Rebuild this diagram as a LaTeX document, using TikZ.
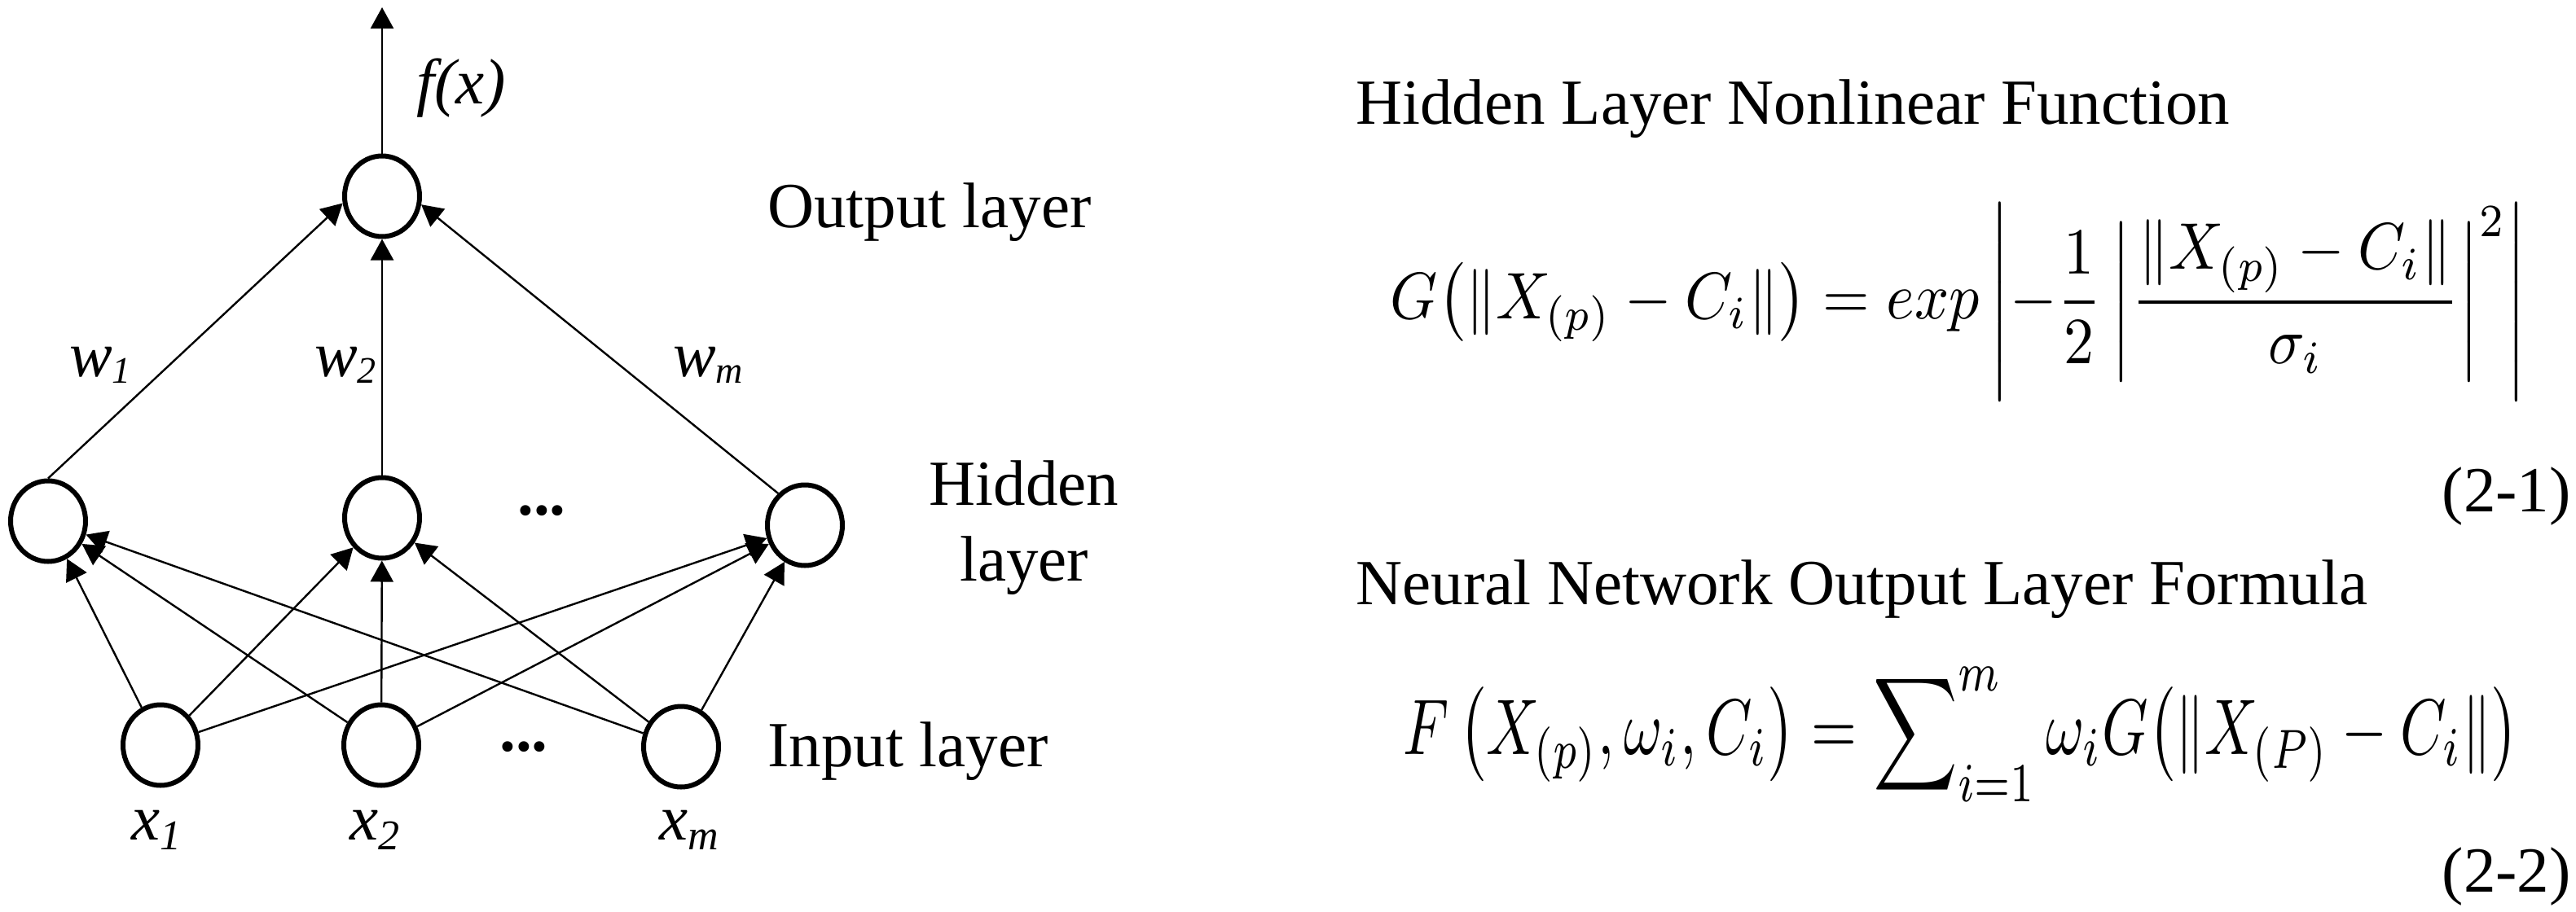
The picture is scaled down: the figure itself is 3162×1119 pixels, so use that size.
\documentclass[tikz,border=0pt]{standalone}
\usepackage{amsmath}
\usepackage{graphicx}
\usepackage{fontspec}
\newfontfamily\tnr{Liberation Serif}
\setmainfont{Liberation Serif}
\usetikzlibrary{arrows.meta,shapes.geometric}
\newcommand{\xsub}[1]{\textit{x}\raisebox{-6pt}{\fontsize{26}{26}\selectfont\textit{#1}}}
\newcommand{\wsub}[1]{\textit{w}\raisebox{-4pt}{\fontsize{23}{23}\selectfont\textit{#1}}}
\begin{document}
\begin{tikzpicture}[x=0.5pt,y=-0.5pt,
  neuron/.style={ellipse, draw, line width=3pt, minimum width=46pt, minimum height=49.5pt, inner sep=0pt},
  conn/.style={line width=1.2pt, -{Triangle[length=13pt,width=14pt]}},
  lbl/.style={font=\tnr\fontsize{39.5}{46.5}\selectfont, inner sep=0pt},
  eq/.style={inner sep=0pt}]
\fill[white] (0,0) rectangle (3162,1119);
\useasboundingbox (0,0) rectangle (3162,1119);
% nodes
\node[neuron] (out) at (469,241) {};
\node[neuron] (h1) at (59,640) {};
\node[neuron] (h2) at (469,636) {};
\node[neuron] (hm) at (988,645) {};
\node[neuron] (i1) at (197,915) {};
\node[neuron] (i2) at (468,915) {};
\node[neuron] (im) at (836,917) {};
\coordinate (top) at (469,9);
% connectors
\draw[conn] (out.north) -- (top);
\draw[conn] (h1.north) -- (out.190);
\draw[conn] (h2) -- (out);
\draw[conn] (hm.130) -- (out.-12);
\foreach \s in {i1,i2,im}{
  \foreach \t in {h1,h2,hm}{
    \draw[conn] (\s) -- (\t);
  }
}
% labels
\node[lbl, anchor=base] (fx) at (566,127) {\textit{f(x)}};
\node[lbl, anchor=base] (w1) at (123,462) {\wsub{1}};
\node[lbl, anchor=base] (w2) at (424,462) {\wsub{2}};
\node[lbl, anchor=base] (wm) at (869,462) {\wsub{m}};
\node[lbl, anchor=base] (x1) at (192,1031) {\xsub{1}};
\node[lbl, anchor=base] (x2) at (460,1031) {\xsub{2}};
\node[lbl, anchor=base] (xm) at (846,1031) {\xsub{m}};
\node[lbl, anchor=base] (hdots) at (665,632) {\textbf{...}};
\node[lbl, anchor=base] (idots) at (643,922) {\textbf{...}};
\node[lbl, anchor=base west] (olay) at (942,279) {Output layer};
\node[lbl, anchor=base] (hid1) at (1257,620) {Hidden};
\node[lbl, anchor=base] (hid2) at (1257,713) {layer};
\node[lbl, anchor=base west] (ilay) at (942,941) {Input layer};
% right side
\node[lbl, anchor=base west] (t1) at (1664,152) {Hidden Layer Nonlinear Function};
\node[eq] (e1) at (2404,371) {\resizebox*{697pt}{121.5pt}{$\displaystyle G\bigl(\lVert X_{(p)}-C_i\rVert\bigr)=exp\left|-\frac{1}{2}\left|\frac{\lVert X_{(p)}-C_i\rVert}{\sigma_i}\right|^{2}\right|$}};
\node[lbl, anchor=base east] (n1) at (3156,628) {(2-1)};
\node[lbl, anchor=base west] (t2) at (1664,742) {Neural Network Output Layer Formula};
\node[eq] (e2) at (2407,902) {\resizebox*{684pt}{82.5pt}{$\displaystyle F\left(X_{(p)},\omega_i,C_i\right)=\sum\nolimits_{i=1}^{m}\omega_i G\bigl(\lVert X_{(P)}-C_i\rVert\bigr)$}};
\node[lbl, anchor=base east] (n2) at (3156,1095) {(2-2)};
\end{tikzpicture}
\end{document}
